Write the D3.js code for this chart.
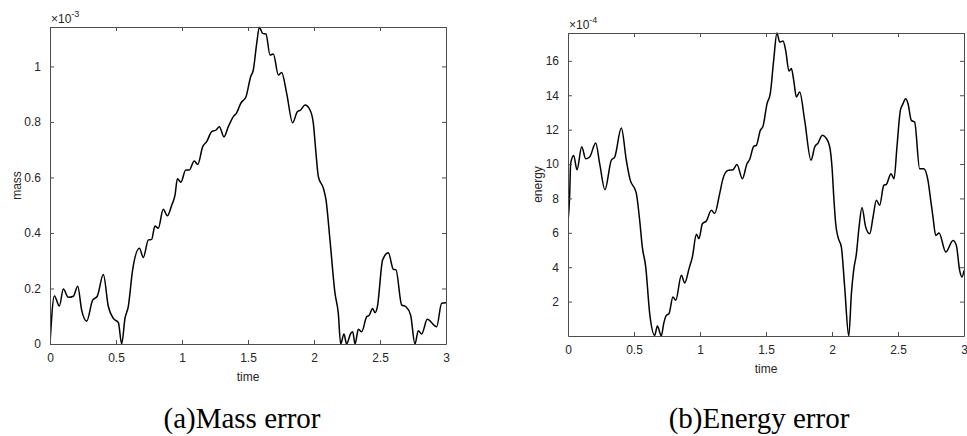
<!DOCTYPE html>
<html>
<head>
<meta charset="utf-8">
<script src="https://cdn.jsdelivr.net/npm/d3@7"></script>
<style>
    body { margin: 0; background: #fff; }
    svg { display: block; }
    .tick text { font-family: "Liberation Sans", Arial, sans-serif; font-size: 12px; fill: #262626; }
    .lbl { font-family: "Liberation Sans", Arial, sans-serif; font-size: 12px; fill: #262626; }
    .cap { font-family: "Liberation Serif", "Times New Roman", serif; font-size: 29px; fill: #000; }
</style>
</head>
<body>
<svg id="chart" width="967" height="436"></svg>
<script>
// Mass error (x 1e-3)
const massTime = [0, 0.033, 0.071, 0.101, 0.139, 0.177, 0.21, 0.24, 0.278, 0.323, 0.358, 0.404, 0.442, 0.48, 0.518, 0.543,
    0.568, 0.593, 0.626, 0.677, 0.707, 0.745, 0.77, 0.795, 0.82, 0.858, 0.889, 0.922, 0.947, 0.965, 0.992,
    1.028, 1.055, 1.093, 1.119, 1.157, 1.187, 1.225, 1.258, 1.283, 1.318, 1.351, 1.389, 1.414, 1.445, 1.485,
    1.52, 1.54, 1.566, 1.586, 1.611, 1.636, 1.667, 1.692, 1.73, 1.755, 1.793, 1.838, 1.874, 1.899, 1.932,
    1.97, 1.995, 2.015, 2.033, 2.071, 2.091, 2.121, 2.159, 2.184, 2.202, 2.227, 2.247, 2.278, 2.293, 2.311,
    2.336, 2.361, 2.399, 2.419, 2.444, 2.462, 2.48, 2.52, 2.563, 2.601, 2.621, 2.664, 2.697, 2.732, 2.765,
    2.79, 2.816, 2.858, 2.929, 2.967, 3.0];
const massValue = [0, 0.173, 0.137, 0.198, 0.168, 0.172, 0.208, 0.122, 0.082, 0.158, 0.172, 0.25, 0.135, 0.092, 0.077, 0,
    0.092, 0.135, 0.267, 0.345, 0.312, 0.375, 0.377, 0.425, 0.417, 0.485, 0.462, 0.5, 0.536, 0.595, 0.583,
    0.627, 0.627, 0.659, 0.647, 0.711, 0.729, 0.765, 0.771, 0.783, 0.746, 0.783, 0.819, 0.833, 0.867, 0.891,
    0.963, 0.987, 1.083, 1.141, 1.119, 1.117, 1.041, 1.045, 0.969, 0.978, 0.903, 0.797, 0.837, 0.843, 0.861,
    0.843, 0.795, 0.687, 0.603, 0.561, 0.519, 0.375, 0.183, 0.111, 0, 0.036, 0, 0.038, 0.044, 0,
    0.053, 0.044, 0.098, 0.104, 0.128, 0.113, 0.134, 0.303, 0.329, 0.269, 0.267, 0.141, 0.134, 0.104, 0,
    0.048, 0.036, 0.089, 0.062, 0.147, 0.149];

// Energy error (x 1e-4)
const energyTime = [0, 0.013, 0.02, 0.043, 0.068, 0.104, 0.134, 0.164, 0.21, 0.24, 0.28, 0.328, 0.354, 0.404, 0.442, 0.472,
    0.505, 0.518, 0.543, 0.563, 0.589, 0.619, 0.657, 0.677, 0.707, 0.725, 0.745, 0.765, 0.795, 0.816, 0.859,
    0.884, 0.917, 0.942, 0.973, 0.992, 1.018, 1.048, 1.086, 1.111, 1.149, 1.174, 1.212, 1.25, 1.28, 1.321,
    1.356, 1.376, 1.407, 1.427, 1.457, 1.477, 1.508, 1.533, 1.558, 1.583, 1.604, 1.629, 1.649, 1.674, 1.692,
    1.71, 1.73, 1.755, 1.793, 1.841, 1.869, 1.894, 1.927, 1.958, 1.983, 2.0, 2.015, 2.028, 2.045, 2.071,
    2.096, 2.127, 2.147, 2.164, 2.185, 2.205, 2.227, 2.255, 2.286, 2.311, 2.336, 2.361, 2.392, 2.412, 2.447,
    2.47, 2.492, 2.518, 2.538, 2.558, 2.576, 2.601, 2.626, 2.664, 2.695, 2.727, 2.748, 2.765, 2.786, 2.811,
    2.862, 2.917, 2.942, 2.967, 2.985, 3.0];
const energyValue = [6.63, 8.28, 10.02, 10.5, 9.67, 11.0, 10.31, 10.41, 11.22, 10.02, 8.51, 10.22, 10.41, 12.09, 10.22, 9.05,
    8.57, 8.28, 6.73, 5.17, 4.01, 1.3, 0.04, 0.58, 0, 0.72, 1.2, 1.3, 2.27, 2.08, 3.53,
    3.08, 3.92, 4.59, 5.91, 5.66, 6.53, 6.69, 7.31, 7.12, 8.28, 9.15, 9.63, 9.67, 9.97, 9.15,
    10.02, 10.26, 11.03, 11.09, 11.96, 12.19, 13.51, 14.13, 16.03, 17.62, 17.09, 17.15, 16.61, 15.41, 15.55,
    14.87, 13.9, 14.19, 12.54, 10.22, 10.99, 11.22, 11.67, 11.48, 10.99, 9.83, 7.89, 6.53, 5.76, 5.17,
    2.85, 0, 2.47, 3.82, 4.79, 6.34, 7.47, 6.34, 5.95, 6.92, 7.89, 7.6, 8.76, 8.82, 9.44,
    9.15, 10.99, 13.12, 13.51, 13.8, 13.51, 12.54, 12.44, 9.73, 9.73, 9.05, 7.89, 6.92, 5.85, 5.99,
    4.88, 5.56, 5.27, 3.82, 3.43, 3.82];

const timeTicks = [0, 0.5, 1, 1.5, 2, 2.5, 3];
const massTicks = [0, 0.2, 0.4, 0.6, 0.8, 1];
const energyTicks = [2, 4, 6, 8, 10, 12, 14, 16];

const svg = d3.select('#chart');

/**
 * Draw one MATLAB-style panel
 */
function drawPanel(opt) {
    const { box, xs, ys, yTicks, exponent, yLabel, caption } = opt;
    const w = box.right - box.left;
    const h = box.bottom - box.top;

    const x = d3.scaleLinear().domain([0, 3]).range([box.left, box.right]);
    const y = d3.scaleLinear().domain(opt.yDomain).range([box.bottom, box.top]);

    const clipId = 'clip-' + yLabel;
    svg.append('clipPath').attr('id', clipId)
        .append('rect')
        .attr('x', box.left).attr('y', box.top - 1)
        .attr('width', w).attr('height', h + 1);

    // Curve
    const line = d3.line()
        .x((d, i) => x(xs[i]))
        .y(d => y(d))
        .curve(d3.curveMonotoneX);

    svg.append('path')
        .datum(ys)
        .attr('clip-path', `url(#${clipId})`)
        .attr('fill', 'none')
        .attr('stroke', '#000')
        .attr('stroke-width', 1.5)
        .attr('stroke-linejoin', 'round')
        .attr('d', line);

    // Axes, ticks inside on all four sides
    const axisStyle = g => {
        g.select('.domain').attr('stroke', '#4d4d4d');
        g.selectAll('.tick line').attr('stroke', '#4d4d4d');
    };

    svg.append('g')
        .attr('transform', `translate(0,${box.bottom})`)
        .call(d3.axisBottom(x).tickValues(timeTicks).tickSize(-4).tickSizeOuter(0).tickPadding(9).tickFormat(d3.format('')))
        .call(axisStyle);
    svg.append('g')
        .attr('transform', `translate(0,${box.top})`)
        .call(d3.axisTop(x).tickValues(timeTicks).tickSize(-4).tickSizeOuter(0).tickFormat(''))
        .call(axisStyle);
    svg.append('g')
        .attr('transform', `translate(${box.left},0)`)
        .call(d3.axisLeft(y).tickValues(yTicks).tickSize(-4).tickSizeOuter(0).tickPadding(9).tickFormat(d3.format('')))
        .call(axisStyle);
    svg.append('g')
        .attr('transform', `translate(${box.right},0)`)
        .call(d3.axisRight(y).tickValues(yTicks).tickSize(-4).tickSizeOuter(0).tickFormat(''))
        .call(axisStyle);

    // Exponent label
    const ex = svg.append('text').attr('class', 'lbl')
        .attr('x', box.left + 1).attr('y', box.top - 4);
    ex.append('tspan').text('\u00d710');
    ex.append('tspan').attr('dy', -6).style('font-size', '9px').text(exponent);

    // Axis labels
    svg.append('text').attr('class', 'lbl')
        .attr('x', (box.left + box.right) / 2).attr('y', box.bottom + 37)
        .attr('text-anchor', 'middle')
        .text('time');
    svg.append('text').attr('class', 'lbl')
        .attr('transform', `translate(${opt.yLabelX},${(box.top + box.bottom) / 2}) rotate(-90)`)
        .attr('text-anchor', 'middle')
        .text(yLabel);

    // Caption
    svg.append('text').attr('class', 'cap')
        .attr('x', opt.captionX).attr('y', 428)
        .attr('text-anchor', 'middle')
        .text(caption);
}

drawPanel({
    box: { left: 50, right: 446, top: 27, bottom: 344 },
    xs: massTime, ys: massValue,
    yDomain: [0, 1.142], yTicks: massTicks,
    exponent: '-3', yLabel: 'mass', yLabelX: 21,
    caption: '(a)Mass error', captionX: 242
});

drawPanel({
    box: { left: 568, right: 964, top: 33, bottom: 336 },
    xs: energyTime, ys: energyValue,
    yDomain: [0, 17.62], yTicks: energyTicks,
    exponent: '-4', yLabel: 'energy', yLabelX: 542,
    caption: '(b)Energy error', captionX: 759
});
</script>
</body>
</html>
